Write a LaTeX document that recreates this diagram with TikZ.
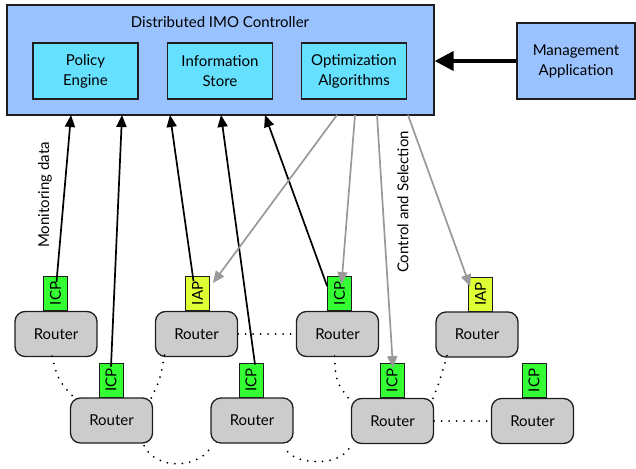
\documentclass[tikz,border=0pt]{standalone}
\usepackage{fontspec}
\setmainfont{Lato}
\usetikzlibrary{arrows.meta}
\definecolor{ctrlblue}{RGB}{153,194,255}
\definecolor{modcyan}{RGB}{102,224,255}
\definecolor{routergray}{RGB}{204,204,204}
\definecolor{icpgreen}{RGB}{51,255,51}
\definecolor{iapyellow}{RGB}{221,255,51}
\definecolor{ctlgray}{RGB}{153,153,153}
\definecolor{edge}{RGB}{30,30,30}
\begin{document}
\begin{tikzpicture}[x=1pt,y=-1pt,
  every node/.style={font=\fontsize{15}{20}\selectfont, align=center, inner sep=0pt},
  box/.style={draw=edge, line width=1.3pt},
  module/.style={box, fill=modcyan, minimum width=105pt, minimum height=56pt},
  router/.style={box, fill=routergray, rounded corners=10pt, minimum width=82pt, minimum height=45pt},
  tag/.style={draw=edge, line width=0.8pt, minimum width=24pt, minimum height=34pt},
  icp/.style={tag, fill=icpgreen},
  iap/.style={tag, fill=iapyellow},
  mon/.style={line width=1.7pt, -{Triangle[length=12pt,width=10pt]}},
  sel/.style={line width=1.7pt, ctlgray, -{Triangle[length=12pt,width=10pt]}},
  link/.style={line width=2pt, line cap=round, dash pattern=on 0pt off 7.5pt}
]
\useasboundingbox (0,0) rectangle (636,468);

% controller and its modules
\node[box, fill=ctrlblue, minimum width=427pt, minimum height=110pt] (ctrl) at (220.5,60) {};
\node (title) at (220,22) {Distributed IMO Controller};
\node[module] (pe) at (85.5,71) {Policy\\Engine};
\node[module] (is) at (220,71) {Information\\Store};
\node[module] (oa) at (354,71) {Optimization\\Algorithms};

% management application
\node[box, fill=ctrlblue, minimum width=118pt, minimum height=76pt] (ma) at (576,61) {Management\\Application};
\draw[line width=4pt, -{Triangle[length=19pt,width=19pt]}] (ma.west) -- (ctrl.east |- ma.west);

% routers
\node[router] (r1) at (56,334) {Router};
\node[router] (r2) at (196.5,334) {Router};
\node[router] (r3) at (337.5,334) {Router};
\node[router] (r4) at (477,334.5) {Router};
\node[router] (r5) at (111.5,420.5) {Router};
\node[router] (r6) at (252,420.5) {Router};
\node[router] (r7) at (392.5,421) {Router};
\node[router] (r8) at (532.5,421) {Router};

% protocol tags
\node[icp, anchor=south] (t1) at ([xshift=-0.5pt]r1.north) {\rotatebox{90}{ICP}};
\node[iap, anchor=south] (t2) at ([xshift=1pt]r2.north) {\rotatebox{90}{IAP}};
\node[icp, anchor=south] (t3) at ([xshift=2pt]r3.north) {\rotatebox{90}{ICP}};
\node[iap, anchor=south] (t4) at ([xshift=3.5pt]r4.north) {\rotatebox{90}{IAP}};
\node[icp, anchor=south] (t5) at ([xshift=-0.5pt]r5.north) {\rotatebox{90}{ICP}};
\node[icp, anchor=south] (t6) at ([xshift=-1pt]r6.north) {\rotatebox{90}{ICP}};
\node[icp, anchor=south] (t7) at ([xshift=-0.5pt]r7.north) {\rotatebox{90}{ICP}};
\node[icp, anchor=south] (t8) at ([xshift=1.5pt]r8.north) {\rotatebox{90}{ICP}};

% entry and exit points on the controller's lower edge
\coordinate (m1) at (71,115);
\coordinate (m2) at (122,115);
\coordinate (m3) at (170,115);
\coordinate (m4) at (221,115);
\coordinate (m5) at (265,115);
\coordinate (c1) at (337,115);
\coordinate (c2) at (355,115);
\coordinate (c3) at (377,115);
\coordinate (c4) at (408,115);

% monitoring data
\draw[mon] ([xshift=1pt,yshift=-6pt]t1.north) -- (m1);
\draw[mon] ([yshift=-4pt]t5.north) -- (m2);
\draw[mon] ([xshift=-4pt,yshift=-5pt]t2.north) -- (m3);
\draw[mon] ([xshift=4pt,yshift=-2pt]t6.north) -- (m4);
\draw[mon] ([yshift=-10pt]t3.north west) -- (m5);

% control and selection
\draw[sel] (c1) -- ([xshift=3pt,yshift=-7pt]t2.north east);
\draw[sel] (c2) -- ([xshift=2pt,yshift=-8pt]t3.north);
\draw[sel] (c3) -- ([xshift=1pt,yshift=-5pt]t7.north);
\draw[sel] (c4) -- ([xshift=2pt,yshift=-10pt]t4.north west);

\node[rotate=90] (lmon) at (45,195) {Monitoring data};
\node[rotate=90] (lsel) at (403,202) {Control and Selection};

% router interconnections
\draw[link] ([xshift=-4pt,yshift=1pt]r1.south) .. controls (58,380) .. ([xshift=4pt]r5.north west);
\draw[link] ([xshift=-32pt,yshift=2pt]r2.south) .. controls (160,380) .. ([xshift=-3pt,yshift=-3pt]r5.north east);
\draw[link] (r2.east) -- (r3.west);
\draw[link] ([xshift=-9pt,yshift=-2pt]r5.south east) .. controls (155,470) and (200,470) .. ([xshift=2pt,yshift=-1pt]r6.south west);
\draw[link] ([xshift=-6pt,yshift=-8pt]r6.south east) .. controls (298,465) and (342,467) .. ([xshift=0pt,yshift=-1pt]r7.south west);
\draw[link] ([xshift=-3pt,yshift=1pt]r3.south) .. controls (336,382) .. ([xshift=-2pt,yshift=-1pt]r7.north west);
\draw[link] ([xshift=-30pt,yshift=2pt]r4.south) .. controls (440,380) .. ([xshift=-2pt,yshift=-3pt]r7.north east);
\draw[link] (r7.east) -- (r8.west);
\end{tikzpicture}
\end{document}
